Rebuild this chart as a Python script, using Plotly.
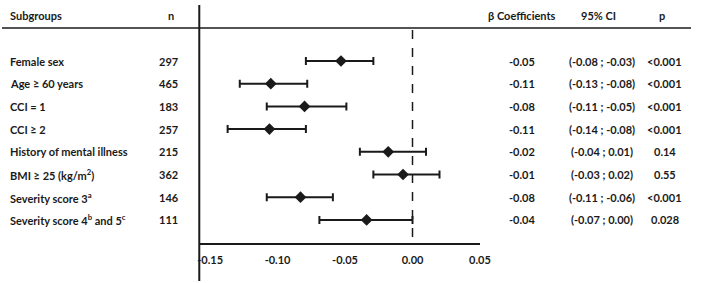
import plotly.graph_objects as go

subgroups = ["Female sex", "Age ≥ 60 years", "CCI = 1", "CCI ≥ 2",
             "History of mental illness", "BMI ≥ 25 (kg/m<sup>2</sup>)",
             "Severity score 3<sup>a</sup>", "Severity score 4<sup>b</sup> and 5<sup>c</sup>"]
n_values = [297, 465, 183, 257, 215, 362, 146, 111]
beta_est = [-0.053, -0.105, -0.080, -0.106, -0.018, -0.007, -0.083, -0.034]
ci_low = [-0.079, -0.128, -0.108, -0.137, -0.039, -0.029, -0.108, -0.069]
ci_high = [-0.029, -0.078, -0.049, -0.079, 0.010, 0.020, -0.059, 0.000]
beta_labels = ["-0.05", "-0.11", "-0.08", "-0.11", "-0.02", "-0.01", "-0.08", "-0.04"]
ci_labels = ["(-0.08 ; -0.03)", "(-0.13 ; -0.08)", "(-0.11 ; -0.05)", "(-0.14 ; -0.08)",
             "(-0.04 ; 0.01)", "(-0.03 ; 0.02)", "(-0.11 ; -0.06)", "(-0.07 ; 0.00)"]
p_labels = ["&lt;0.001", "&lt;0.001", "&lt;0.001", "&lt;0.001", "0.14", "0.55", "&lt;0.001", "0.028"]
tick_vals = [-0.15, -0.10, -0.05, 0.00, 0.05]
tick_text = ["-0.15", "-0.10", "-0.05", "0.00", "0.05"]

W, H = 702, 283
FONT = "Lato"
COL = "#1a1a1a"
rows = list(range(len(subgroups)))

def px(x):
    return x / W

def py(y):
    return 1 - y / H

fig = go.Figure()
fig.add_trace(go.Scatter(
    x=beta_est, y=rows, mode="markers",
    marker=dict(symbol="diamond", size=9, color=COL),
    error_x=dict(type="data", symmetric=False,
                 array=[h - b for h, b in zip(ci_high, beta_est)],
                 arrayminus=[b - l for l, b in zip(ci_low, beta_est)],
                 color=COL, thickness=2, width=4),
    showlegend=False, hoverinfo="skip",
))

ann = []
def add_text(x, y, text, anchor="left", yref="y"):
    ann.append(dict(x=px(x), xref="paper", y=y, yref=yref, text=text,
                    xanchor=anchor, yanchor="middle", showarrow=False,
                    font=dict(family=FONT, size=11, color=COL, weight="bold")))

header_y = py(16)
add_text(6, header_y, "Subgroups", "left", "paper")
add_text(172, header_y, "n", "center", "paper")
add_text(530, header_y, "β Coefficients", "center", "paper")
add_text(608, header_y, "95% CI", "center", "paper")
add_text(672, header_y, "p", "center", "paper")

for i in rows:
    add_text(6, i, subgroups[i], "left")
    add_text(170, i, str(n_values[i]), "center")
    add_text(530, i, beta_labels[i], "center")
    add_text(611, i, ci_labels[i], "center")
    add_text(675, i, p_labels[i], "center")

top_px, bot_px = 28, 242.7
row0, step = 61, 22.7
y_top = (top_px - row0) / step
y_bot = (bot_px - row0) / step

shapes = [
    dict(type="line", xref="paper", yref="paper", x0=0, x1=1, y0=py(28), y1=py(28),
         line=dict(color=COL, width=1.5)),
    dict(type="line", xref="paper", yref="paper", x0=px(201), x1=px(201), y0=py(5), y1=py(281),
         line=dict(color=COL, width=2)),
    dict(type="line", xref="x", yref="paper", x0=0, x1=0, y0=py(30), y1=py(242),
         line=dict(color=COL, width=1.5, dash="dash")),
]

fig.update_layout(
    width=W, height=H, margin=dict(l=0, r=0, t=0, b=0),
    paper_bgcolor="white", plot_bgcolor="white",
    font=dict(family=FONT, size=11, color=COL, weight="bold"),
    xaxis=dict(domain=[px(201), px(487)], range=[-0.158, 0.05],
               tickvals=tick_vals, ticktext=tick_text, showgrid=False, zeroline=False,
               showline=True, linecolor=COL, linewidth=2, ticks="", ticklabelstandoff=6,
               tickfont=dict(family=FONT, size=11, color=COL, weight="bold")),
    yaxis=dict(domain=[py(bot_px), py(top_px)], range=[y_bot, y_top],
               showgrid=False, zeroline=False, showticklabels=False, showline=False),
    annotations=ann, shapes=shapes,
)

fig.write_html("out.html")
